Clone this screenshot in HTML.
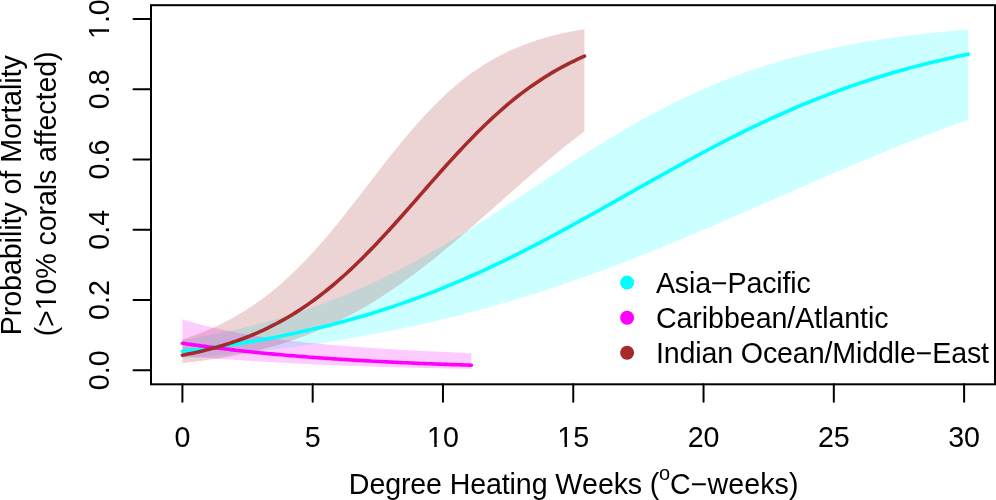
<!DOCTYPE html>
<html><head><meta charset="utf-8"><style>
html,body{margin:0;padding:0;background:#fff;width:996px;height:500px;overflow:hidden}
svg{display:block;will-change:transform}
text{font-family:"Liberation Sans",sans-serif;font-size:28.6px;fill:#000;font-kerning:none}
</style></head><body>
<svg width="996" height="500" viewBox="0 0 996 500">
<rect width="996" height="500" fill="#fff"/>
<polygon points="182.40,340.03 188.95,338.90 195.50,337.73 202.05,336.51 208.60,335.25 215.14,333.94 221.69,332.57 228.24,331.15 234.79,329.68 241.34,328.15 247.89,326.56 254.44,324.91 260.99,323.20 267.54,321.43 274.09,319.59 280.63,317.68 287.18,315.70 293.73,313.65 300.28,311.53 306.83,309.33 313.38,307.06 319.93,304.71 326.48,302.28 333.03,299.78 339.58,297.19 346.12,294.52 352.67,291.77 359.22,288.93 365.77,286.01 372.32,283.01 378.87,279.93 385.42,276.76 391.97,273.51 398.52,270.18 405.07,266.77 411.61,263.28 418.16,259.72 424.71,256.08 431.26,252.36 437.81,248.58 444.36,244.73 450.91,240.81 457.46,236.84 464.01,232.80 470.56,228.72 477.10,224.58 483.65,220.40 490.20,216.18 496.75,211.93 503.30,207.65 509.85,203.34 516.40,199.01 522.95,194.67 529.50,190.32 536.05,185.97 542.59,181.62 549.14,177.28 555.69,172.96 562.24,168.65 568.79,164.37 575.34,160.12 581.89,155.91 588.44,151.73 594.99,147.61 601.54,143.53 608.08,139.51 614.63,135.54 621.18,131.64 627.73,127.81 634.28,124.04 640.83,120.34 647.38,116.72 653.93,113.18 660.48,109.72 667.03,106.34 673.57,103.04 680.12,99.82 686.67,96.69 693.22,93.65 699.77,90.69 706.32,87.82 712.87,85.03 719.42,82.33 725.97,79.71 732.52,77.18 739.06,74.73 745.61,72.37 752.16,70.09 758.71,67.89 765.26,65.76 771.81,63.72 778.36,61.75 784.91,59.85 791.46,58.03 798.01,56.28 804.55,54.60 811.10,52.98 817.65,51.43 824.20,49.95 830.75,48.52 837.30,47.16 843.85,45.85 850.40,44.60 856.95,43.40 863.50,42.25 870.04,41.15 876.59,40.11 883.14,39.10 889.69,38.15 896.24,37.23 902.79,36.36 909.34,35.53 915.89,34.73 922.44,33.97 928.99,33.25 935.53,32.56 942.08,31.90 948.63,31.27 955.18,30.68 961.73,30.11 968.28,29.57 968.28,119.67 961.73,122.00 955.18,124.36 948.63,126.75 942.08,129.17 935.53,131.63 928.99,134.11 922.44,136.62 915.89,139.16 909.34,141.73 902.79,144.32 896.24,146.94 889.69,149.59 883.14,152.26 876.59,154.95 870.04,157.66 863.50,160.39 856.95,163.14 850.40,165.91 843.85,168.69 837.30,171.49 830.75,174.31 824.20,177.14 817.65,179.97 811.10,182.82 804.55,185.68 798.01,188.54 791.46,191.41 784.91,194.28 778.36,197.16 771.81,200.03 765.26,202.91 758.71,205.78 752.16,208.66 745.61,211.52 739.06,214.38 732.52,217.23 725.97,220.08 719.42,222.91 712.87,225.73 706.32,228.54 699.77,231.33 693.22,234.10 686.67,236.86 680.12,239.60 673.57,242.32 667.03,245.02 660.48,247.70 653.93,250.36 647.38,252.99 640.83,255.59 634.28,258.17 627.73,260.72 621.18,263.25 614.63,265.74 608.08,268.21 601.54,270.64 594.99,273.05 588.44,275.42 581.89,277.76 575.34,280.07 568.79,282.34 562.24,284.58 555.69,286.79 549.14,288.96 542.59,291.10 536.05,293.20 529.50,295.27 522.95,297.30 516.40,299.29 509.85,301.25 503.30,303.18 496.75,305.07 490.20,306.92 483.65,308.74 477.10,310.52 470.56,312.26 464.01,313.97 457.46,315.65 450.91,317.29 444.36,318.89 437.81,320.46 431.26,322.00 424.71,323.50 418.16,324.97 411.61,326.40 405.07,327.80 398.52,329.17 391.97,330.51 385.42,331.81 378.87,333.08 372.32,334.32 365.77,335.53 359.22,336.71 352.67,337.86 346.12,338.98 339.58,340.07 333.03,341.13 326.48,342.16 319.93,343.16 313.38,344.14 306.83,345.09 300.28,346.01 293.73,346.91 287.18,347.78 280.63,348.62 274.09,349.44 267.54,350.24 260.99,351.01 254.44,351.75 247.89,352.48 241.34,353.18 234.79,353.85 228.24,354.51 221.69,355.14 215.14,355.76 208.60,356.35 202.05,356.92 195.50,357.47 188.95,358.01 182.40,358.52" fill="#00FFFF" fill-opacity="0.2"/><polygon points="182.40,319.37 184.81,320.09 187.22,320.81 189.62,321.51 192.03,322.19 194.44,322.86 196.85,323.52 199.26,324.16 201.66,324.79 204.07,325.41 206.48,326.01 208.89,326.60 211.30,327.18 213.71,327.75 216.11,328.30 218.52,328.85 220.93,329.38 223.34,329.90 225.75,330.41 228.15,330.91 230.56,331.39 232.97,331.87 235.38,332.34 237.79,332.80 240.19,333.25 242.60,333.69 245.01,334.11 247.42,334.53 249.83,334.95 252.23,335.35 254.64,335.74 257.05,336.13 259.46,336.51 261.87,336.88 264.28,337.24 266.68,337.59 269.09,337.94 271.50,338.28 273.91,338.61 276.32,338.94 278.72,339.26 281.13,339.57 283.54,339.88 285.95,340.18 288.36,340.48 290.76,340.77 293.17,341.05 295.58,341.33 297.99,341.60 300.40,341.87 302.81,342.13 305.21,342.39 307.62,342.64 310.03,342.89 312.44,343.13 314.85,343.37 317.25,343.60 319.66,343.83 322.07,344.06 324.48,344.28 326.89,344.50 329.29,344.71 331.70,344.92 334.11,345.13 336.52,345.33 338.93,345.53 341.33,345.73 343.74,345.92 346.15,346.11 348.56,346.30 350.97,346.48 353.38,346.67 355.78,346.84 358.19,347.02 360.60,347.19 363.01,347.36 365.42,347.53 367.82,347.70 370.23,347.86 372.64,348.02 375.05,348.18 377.46,348.33 379.86,348.49 382.27,348.64 384.68,348.79 387.09,348.94 389.50,349.08 391.90,349.23 394.31,349.37 396.72,349.51 399.13,349.65 401.54,349.78 403.95,349.92 406.35,350.05 408.76,350.18 411.17,350.31 413.58,350.44 415.99,350.57 418.39,350.69 420.80,350.82 423.21,350.94 425.62,351.06 428.03,351.18 430.43,351.30 432.84,351.41 435.25,351.53 437.66,351.64 440.07,351.76 442.47,351.87 444.88,351.98 447.29,352.09 449.70,352.20 452.11,352.30 454.52,352.41 456.92,352.51 459.33,352.62 461.74,352.72 464.15,352.82 466.56,352.92 468.96,353.02 471.37,353.12 471.37,368.82 468.96,368.79 466.56,368.75 464.15,368.72 461.74,368.68 459.33,368.65 456.92,368.61 454.52,368.57 452.11,368.53 449.70,368.49 447.29,368.45 444.88,368.41 442.47,368.36 440.07,368.32 437.66,368.27 435.25,368.23 432.84,368.18 430.43,368.13 428.03,368.09 425.62,368.04 423.21,367.99 420.80,367.93 418.39,367.88 415.99,367.83 413.58,367.77 411.17,367.72 408.76,367.66 406.35,367.60 403.95,367.54 401.54,367.48 399.13,367.42 396.72,367.35 394.31,367.29 391.90,367.22 389.50,367.16 387.09,367.09 384.68,367.02 382.27,366.95 379.86,366.88 377.46,366.80 375.05,366.73 372.64,366.65 370.23,366.58 367.82,366.50 365.42,366.42 363.01,366.33 360.60,366.25 358.19,366.17 355.78,366.08 353.38,365.99 350.97,365.90 348.56,365.81 346.15,365.72 343.74,365.63 341.33,365.53 338.93,365.44 336.52,365.34 334.11,365.24 331.70,365.14 329.29,365.03 326.89,364.93 324.48,364.82 322.07,364.72 319.66,364.61 317.25,364.50 314.85,364.38 312.44,364.27 310.03,364.16 307.62,364.04 305.21,363.92 302.81,363.80 300.40,363.68 297.99,363.56 295.58,363.43 293.17,363.31 290.76,363.18 288.36,363.05 285.95,362.92 283.54,362.79 281.13,362.66 278.72,362.52 276.32,362.39 273.91,362.25 271.50,362.11 269.09,361.97 266.68,361.83 264.28,361.69 261.87,361.54 259.46,361.40 257.05,361.26 254.64,361.11 252.23,360.96 249.83,360.81 247.42,360.66 245.01,360.51 242.60,360.36 240.19,360.21 237.79,360.06 235.38,359.90 232.97,359.75 230.56,359.60 228.15,359.44 225.75,359.28 223.34,359.13 220.93,358.97 218.52,358.81 216.11,358.65 213.71,358.49 211.30,358.34 208.89,358.18 206.48,358.02 204.07,357.86 201.66,357.70 199.26,357.54 196.85,357.38 194.44,357.21 192.03,357.05 189.62,356.89 187.22,356.73 184.81,356.57 182.40,356.41" fill="#FF00FF" fill-opacity="0.2"/><polygon points="182.40,339.53 185.75,338.42 189.10,337.27 192.45,336.08 195.80,334.85 199.15,333.57 202.50,332.25 205.85,330.87 209.20,329.45 212.55,327.97 215.90,326.44 219.26,324.86 222.61,323.22 225.96,321.52 229.31,319.76 232.66,317.93 236.01,316.05 239.36,314.09 242.71,312.08 246.06,309.99 249.41,307.83 252.76,305.60 256.11,303.30 259.46,300.92 262.81,298.47 266.16,295.94 269.51,293.33 272.86,290.65 276.21,287.88 279.56,285.04 282.91,282.11 286.27,279.10 289.62,276.01 292.97,272.85 296.32,269.60 299.67,266.27 303.02,262.86 306.37,259.38 309.72,255.82 313.07,252.18 316.42,248.48 319.77,244.70 323.12,240.86 326.47,236.95 329.82,232.98 333.17,228.96 336.52,224.88 339.87,220.75 343.22,216.58 346.57,212.37 349.92,208.12 353.28,203.84 356.63,199.54 359.98,195.21 363.33,190.87 366.68,186.53 370.03,182.18 373.38,177.83 376.73,173.49 380.08,169.17 383.43,164.86 386.78,160.58 390.13,156.33 393.48,152.12 396.83,147.95 400.18,143.83 403.53,139.75 406.88,135.73 410.23,131.78 413.58,127.88 416.93,124.06 420.29,120.30 423.64,116.62 426.99,113.01 430.34,109.49 433.69,106.04 437.04,102.68 440.39,99.41 443.74,96.22 447.09,93.12 450.44,90.10 453.79,87.18 457.14,84.34 460.49,81.59 463.84,78.93 467.19,76.36 470.54,73.87 473.89,71.47 477.24,69.15 480.59,66.92 483.94,64.77 487.30,62.70 490.65,60.71 494.00,58.79 497.35,56.95 500.70,55.19 504.05,53.49 507.40,51.87 510.75,50.31 514.10,48.82 517.45,47.40 520.80,46.03 524.15,44.73 527.50,43.48 530.85,42.29 534.20,41.15 537.55,40.06 540.90,39.02 544.25,38.03 547.60,37.09 550.95,36.19 554.31,35.33 557.66,34.51 561.01,33.73 564.36,32.99 567.71,32.29 571.06,31.61 574.41,30.98 577.76,30.37 581.11,29.79 584.46,29.24 584.46,131.37 581.11,133.89 577.76,136.45 574.41,139.04 571.06,141.66 567.71,144.30 564.36,146.98 561.01,149.68 557.66,152.41 554.31,155.16 550.95,157.94 547.60,160.73 544.25,163.55 540.90,166.39 537.55,169.25 534.20,172.12 530.85,175.02 527.50,177.92 524.15,180.84 520.80,183.77 517.45,186.71 514.10,189.66 510.75,192.61 507.40,195.57 504.05,198.54 500.70,201.51 497.35,204.48 494.00,207.44 490.65,210.41 487.30,213.37 483.94,216.32 480.59,219.27 477.24,222.21 473.89,225.14 470.54,228.06 467.19,230.96 463.84,233.85 460.49,236.72 457.14,239.58 453.79,242.41 450.44,245.23 447.09,248.02 443.74,250.79 440.39,253.54 437.04,256.26 433.69,258.95 430.34,261.62 426.99,264.26 423.64,266.87 420.29,269.44 416.93,271.99 413.58,274.50 410.23,276.98 406.88,279.43 403.53,281.84 400.18,284.22 396.83,286.55 393.48,288.86 390.13,291.12 386.78,293.35 383.43,295.54 380.08,297.70 376.73,299.81 373.38,301.89 370.03,303.92 366.68,305.92 363.33,307.88 359.98,309.80 356.63,311.67 353.28,313.51 349.92,315.32 346.57,317.08 343.22,318.80 339.87,320.48 336.52,322.13 333.17,323.73 329.82,325.30 326.47,326.83 323.12,328.32 319.77,329.77 316.42,331.19 313.07,332.57 309.72,333.91 306.37,335.22 303.02,336.49 299.67,337.73 296.32,338.93 292.97,340.10 289.62,341.23 286.27,342.33 282.91,343.40 279.56,344.44 276.21,345.44 272.86,346.41 269.51,347.36 266.16,348.27 262.81,349.15 259.46,350.00 256.11,350.83 252.76,351.63 249.41,352.40 246.06,353.14 242.71,353.86 239.36,354.55 236.01,355.22 232.66,355.86 229.31,356.48 225.96,357.08 222.61,357.66 219.26,358.21 215.90,358.74 212.55,359.25 209.20,359.74 205.85,360.22 202.50,360.67 199.15,361.11 195.80,361.52 192.45,361.93 189.10,362.31 185.75,362.68 182.40,363.03" fill="#A52A2A" fill-opacity="0.2"/>
<polyline points="182.40,351.29 188.95,350.52 195.50,349.72 202.05,348.89 208.60,348.03 215.14,347.13 221.69,346.20 228.24,345.24 234.79,344.24 241.34,343.20 247.89,342.13 254.44,341.02 260.99,339.86 267.54,338.67 274.09,337.44 280.63,336.16 287.18,334.84 293.73,333.47 300.28,332.06 306.83,330.60 313.38,329.09 319.93,327.53 326.48,325.92 333.03,324.26 339.58,322.55 346.12,320.78 352.67,318.96 359.22,317.09 365.77,315.15 372.32,313.17 378.87,311.12 385.42,309.02 391.97,306.85 398.52,304.63 405.07,302.35 411.61,300.01 418.16,297.61 424.71,295.15 431.26,292.63 437.81,290.05 444.36,287.41 450.91,284.71 457.46,281.95 464.01,279.14 470.56,276.26 477.10,273.33 483.65,270.34 490.20,267.30 496.75,264.21 503.30,261.06 509.85,257.86 516.40,254.62 522.95,251.32 529.50,247.98 536.05,244.60 542.59,241.18 549.14,237.72 555.69,234.22 562.24,230.69 568.79,227.13 575.34,223.54 581.89,219.93 588.44,216.29 594.99,212.64 601.54,208.97 608.08,205.28 614.63,201.59 621.18,197.89 627.73,194.19 634.28,190.49 640.83,186.79 647.38,183.10 653.93,179.42 660.48,175.76 667.03,172.11 673.57,168.48 680.12,164.87 686.67,161.29 693.22,157.74 699.77,154.22 706.32,150.73 712.87,147.28 719.42,143.87 725.97,140.50 732.52,137.17 739.06,133.89 745.61,130.65 752.16,127.47 758.71,124.34 765.26,121.26 771.81,118.23 778.36,115.26 784.91,112.34 791.46,109.48 798.01,106.68 804.55,103.94 811.10,101.26 817.65,98.63 824.20,96.07 830.75,93.57 837.30,91.12 843.85,88.74 850.40,86.42 856.95,84.15 863.50,81.95 870.04,79.80 876.59,77.71 883.14,75.68 889.69,73.71 896.24,71.79 902.79,69.93 909.34,68.13 915.89,66.38 922.44,64.68 928.99,63.03 935.53,61.44 942.08,59.89 948.63,58.40 955.18,56.95 961.73,55.55 968.28,54.19" fill="none" stroke="#00FFFF" stroke-width="3.6" stroke-linecap="round" stroke-linejoin="round"/><polyline points="182.40,343.21 184.81,343.57 187.22,343.93 189.62,344.28 192.03,344.62 194.44,344.97 196.85,345.30 199.26,345.64 201.66,345.97 204.07,346.29 206.48,346.61 208.89,346.93 211.30,347.24 213.71,347.55 216.11,347.86 218.52,348.16 220.93,348.46 223.34,348.75 225.75,349.05 228.15,349.33 230.56,349.62 232.97,349.90 235.38,350.17 237.79,350.44 240.19,350.71 242.60,350.98 245.01,351.24 247.42,351.50 249.83,351.76 252.23,352.01 254.64,352.26 257.05,352.50 259.46,352.75 261.87,352.99 264.28,353.22 266.68,353.46 269.09,353.69 271.50,353.91 273.91,354.14 276.32,354.36 278.72,354.58 281.13,354.79 283.54,355.01 285.95,355.22 288.36,355.42 290.76,355.63 293.17,355.83 295.58,356.03 297.99,356.23 300.40,356.42 302.81,356.61 305.21,356.80 307.62,356.99 310.03,357.17 312.44,357.35 314.85,357.53 317.25,357.71 319.66,357.88 322.07,358.06 324.48,358.23 326.89,358.39 329.29,358.56 331.70,358.72 334.11,358.88 336.52,359.04 338.93,359.20 341.33,359.35 343.74,359.50 346.15,359.66 348.56,359.80 350.97,359.95 353.38,360.09 355.78,360.24 358.19,360.38 360.60,360.52 363.01,360.65 365.42,360.79 367.82,360.92 370.23,361.05 372.64,361.18 375.05,361.31 377.46,361.43 379.86,361.56 382.27,361.68 384.68,361.80 387.09,361.92 389.50,362.04 391.90,362.15 394.31,362.27 396.72,362.38 399.13,362.49 401.54,362.60 403.95,362.71 406.35,362.82 408.76,362.92 411.17,363.03 413.58,363.13 415.99,363.23 418.39,363.33 420.80,363.43 423.21,363.52 425.62,363.62 428.03,363.71 430.43,363.81 432.84,363.90 435.25,363.99 437.66,364.08 440.07,364.16 442.47,364.25 444.88,364.34 447.29,364.42 449.70,364.50 452.11,364.59 454.52,364.67 456.92,364.75 459.33,364.82 461.74,364.90 464.15,364.98 466.56,365.05 468.96,365.13 471.37,365.20" fill="none" stroke="#FF00FF" stroke-width="3.6" stroke-linecap="round" stroke-linejoin="round"/><polyline points="182.40,355.16 185.75,354.52 189.10,353.85 192.45,353.15 195.80,352.42 199.15,351.67 202.50,350.88 205.85,350.07 209.20,349.22 212.55,348.34 215.90,347.42 219.26,346.47 222.61,345.48 225.96,344.46 229.31,343.39 232.66,342.29 236.01,341.14 239.36,339.95 242.71,338.72 246.06,337.45 249.41,336.12 252.76,334.75 256.11,333.34 259.46,331.87 262.81,330.35 266.16,328.78 269.51,327.15 272.86,325.47 276.21,323.74 279.56,321.95 282.91,320.10 286.27,318.20 289.62,316.23 292.97,314.20 296.32,312.12 299.67,309.97 303.02,307.76 306.37,305.48 309.72,303.14 313.07,300.74 316.42,298.28 319.77,295.75 323.12,293.15 326.47,290.49 329.82,287.77 333.17,284.99 336.52,282.14 339.87,279.22 343.22,276.25 346.57,273.22 349.92,270.12 353.28,266.97 356.63,263.76 359.98,260.49 363.33,257.17 366.68,253.80 370.03,250.38 373.38,246.91 376.73,243.40 380.08,239.84 383.43,236.24 386.78,232.61 390.13,228.94 393.48,225.24 396.83,221.51 400.18,217.76 403.53,213.98 406.88,210.19 410.23,206.38 413.58,202.57 416.93,198.74 420.29,194.91 423.64,191.08 426.99,187.25 430.34,183.43 433.69,179.62 437.04,175.83 440.39,172.05 443.74,168.30 447.09,164.57 450.44,160.86 453.79,157.19 457.14,153.55 460.49,149.95 463.84,146.39 467.19,142.87 470.54,139.40 473.89,135.97 477.24,132.59 480.59,129.27 483.94,126.00 487.30,122.78 490.65,119.62 494.00,116.52 497.35,113.48 500.70,110.50 504.05,107.58 507.40,104.72 510.75,101.93 514.10,99.20 517.45,96.53 520.80,93.93 524.15,91.40 527.50,88.92 530.85,86.52 534.20,84.17 537.55,81.89 540.90,79.67 544.25,77.52 547.60,75.42 550.95,73.39 554.31,71.42 557.66,69.50 561.01,67.65 564.36,65.85 567.71,64.11 571.06,62.43 574.41,60.80 577.76,59.22 581.11,57.70 584.46,56.22" fill="none" stroke="#A52A2A" stroke-width="3.6" stroke-linecap="round" stroke-linejoin="round"/>
<g stroke="#000" stroke-width="2" stroke-linecap="round"><line x1="182.40" y1="384.3" x2="182.40" y2="401.8"/><line x1="312.69" y1="384.3" x2="312.69" y2="401.8"/><line x1="442.97" y1="384.3" x2="442.97" y2="401.8"/><line x1="573.25" y1="384.3" x2="573.25" y2="401.8"/><line x1="703.54" y1="384.3" x2="703.54" y2="401.8"/><line x1="833.82" y1="384.3" x2="833.82" y2="401.8"/><line x1="964.11" y1="384.3" x2="964.11" y2="401.8"/><line x1="133.5" y1="370.30" x2="151" y2="370.30"/><line x1="133.5" y1="300.06" x2="151" y2="300.06"/><line x1="133.5" y1="229.82" x2="151" y2="229.82"/><line x1="133.5" y1="159.58" x2="151" y2="159.58"/><line x1="133.5" y1="89.34" x2="151" y2="89.34"/><line x1="133.5" y1="19.10" x2="151" y2="19.10"/></g>
<rect x="151" y="5.2" width="844" height="379.1" fill="none" stroke="#000" stroke-width="2"/>
<g transform="translate(182.40,447) scale(1,1.04)"><text text-anchor="middle">0</text></g><g transform="translate(312.69,447) scale(1,1.04)"><text text-anchor="middle">5</text></g><g transform="translate(442.97,447) scale(1,1.04)"><text text-anchor="middle">10</text><rect x="-14.527" y="-3.137" width="5.813" height="4.037" fill="#fff"/><rect x="-6.186" y="-3.137" width="6.090" height="4.037" fill="#fff"/></g><g transform="translate(573.25,447) scale(1,1.04)"><text text-anchor="middle">15</text><rect x="-14.527" y="-3.137" width="5.813" height="4.037" fill="#fff"/><rect x="-6.186" y="-3.137" width="6.090" height="4.037" fill="#fff"/></g><g transform="translate(703.54,447) scale(1,1.04)"><text text-anchor="middle">20</text></g><g transform="translate(833.82,447) scale(1,1.04)"><text text-anchor="middle">25</text></g><g transform="translate(964.11,447) scale(1,1.04)"><text text-anchor="middle">30</text></g>
<g transform="translate(109.2,370.30) rotate(-90) scale(1,1.04)"><text text-anchor="middle">0.0</text></g><g transform="translate(109.2,300.06) rotate(-90) scale(1,1.04)"><text text-anchor="middle">0.2</text></g><g transform="translate(109.2,229.82) rotate(-90) scale(1,1.04)"><text text-anchor="middle">0.4</text></g><g transform="translate(109.2,159.58) rotate(-90) scale(1,1.04)"><text text-anchor="middle">0.6</text></g><g transform="translate(109.2,89.34) rotate(-90) scale(1,1.04)"><text text-anchor="middle">0.8</text></g><g transform="translate(109.2,19.10) rotate(-90) scale(1,1.04)"><text text-anchor="middle">1.0</text><rect x="-18.500" y="-3.137" width="5.813" height="4.037" fill="#fff"/><rect x="-10.159" y="-3.137" width="6.090" height="4.037" fill="#fff"/></g>
<text x="348.85" y="493.6" textLength="310.5">Degree Heating Weeks (</text>
<text x="658.96" y="479.6" style="font-size:20px">o</text>
<text x="669.95" y="493.6" textLength="128.53">C&#8722;weeks)</text>
<text transform="translate(21,335.25) rotate(-90)" textLength="280.0">Probability of Mortality</text>
<g transform="translate(55.7,336.37) rotate(-90)"><text textLength="284.95">(&gt;10% corals affected)</text><rect x="27.416" y="-3.137" width="5.813" height="4.037" fill="#fff"/><rect x="35.757" y="-3.137" width="6.090" height="4.037" fill="#fff"/></g>
<circle cx="627.1" cy="282.6" r="7" fill="#00FFFF"/>
<circle cx="627.1" cy="317.7" r="7" fill="#FF00FF"/>
<circle cx="627.1" cy="352.8" r="7" fill="#A52A2A"/>
<text x="655.9" y="292.5" textLength="154.91">Asia&#8722;Pacific</text>
<text x="655.9" y="327.6" textLength="232.7">Caribbean/Atlantic</text>
<text x="655.9" y="362.7" textLength="333.16">Indian Ocean/Middle&#8722;East</text>
</svg>
</body></html>
